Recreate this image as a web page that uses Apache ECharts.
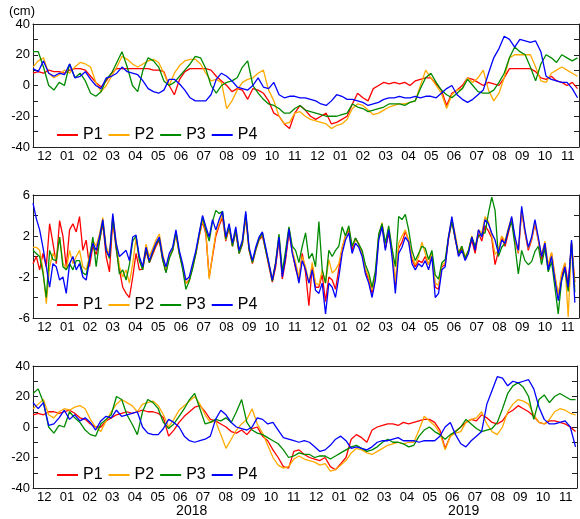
<!DOCTYPE html>
<html>
<head>
<meta charset="utf-8">
<script src="https://cdn.jsdelivr.net/npm/echarts@6/dist/echarts.min.js"></script>
<style>
  html, body { margin: 0; padding: 0; background: #fff; }
  #chart { width: 580px; height: 519px; }
</style>
</head>
<body>
<div id="chart"></div>
<script type="text/javascript">
var months = ['12','01','02','03','04','05','06','07','08','09','10','11',
              '12','01','02','03','04','05','06','07','08','09','10','11'];
var years = ['2018', '2019'];
var yearMid = [7, 19];            // month index of Jul 1 for each year
var levelLabels = [-40, -20, 0, 20, 40];
var shortLabels = [-6, -2, 2, 6];
var names = ['P1', 'P2', 'P3', 'P4'];
var colors = ['#ff0000', '#ffaa00', '#008a00', '#0000ff'];

// top panel, weekly from 2017-12-01
var a1 = [8,9,8,10,9, 9,8,10,11, 11,10,6,2, -1,3,8,11,11, 11,11,11,11, 11,10,10,9,
  0,-6,4,9,11, 11,11,11,10, 6,3,0,-4,-2, -3,-9,-2,-3, -5,-10,-18,-20, -25,-28,-18,-13,-16,
  -20,-22,-20,-18, -25,-24,-22,-20, -12,-5,-8,-10, -2,0,2,1,2, 1,2,0,3, 4,5,5,1,-3,
  -13,-5,-3,0, 5,4,2,0, 2,1,0,5,11, 11,11,11,11, 9,5,4,6, 3,2,0,2,-2];
var a2 = [12,16,18,8,5, 7,10,8,12, 15,14,12,2, -4,0,6,12,19, 17,14,12,14, 16,17,15,8,
  0,8,13,16,17, 17,14,8,3, 4,2,-15,-10,-3, 2,4,5,8, 10,-3,-10,-20, -25,-24,-18,-17,-20,
  -22,-23,-24,-25, -28,-26,-25,-22, -15,-12,-13,-16, -19,-18,-16,-14,-13, -12,-12,-11,-10, 0,10,5,0,-5,
  -15,-6,-3,-2, 5,2,5,10, -3,-10,-5,5,18, 20,20,20,20, 12,3,2,8, 10,12,10,8,6];
var a3 = [22,22,12,0,-3, 2,0,14,5, 8,3,-5,-7, -4,4,8,15,22, 12,0,-4,10, 18,16,12,3,
  0,2,6,10,14, 19,18,11,0, -5,0,2,3,5, 12,16,0,-5, -9,-12,-13,-15, -18,-18,-15,-13,-16,
  -17,-18,-19,-20, -20,-20,-19,-18, -12,-14,-15,-17, -16,-15,-14,-12,-12, -12,-13,-11,-10, -2,5,8,2,-3,
  -6,-8,-5,-2, 4,0,-4,-5, -5,-3,2,8,18, 25,22,20,12, 3,14,20,18, 15,20,18,16,18];
var a4 = [11,9,16,8,6, 8,7,14,5, 6,9,4,0, -2,5,6,8,12, 9,8,7,3, -2,-4,-5,-3,
  4,4,1,-3,-8, -10,-10,-10,-6, 4,8,6,3,-1, -2,-3,0,5, -1,-2,2,-6, -8,-7,-7,-8,-8,
  -9,-10,-12,-13, -10,-6,-7,-9, -9,-10,-11,-13, -12,-11,-9,-8,-8, -7,-8,-8,-7, -8,-7,-7,-8,-5,
  -2,0,-6,-9, -11,-9,-6,-3, 8,18,24,32,30, 25,30,29,28, 29,22,6,4, 3,2,2,-2,-8];

// middle panel, every 40/9 days from 2017-12-01
var b1 = [-0.7,0,-1.3,0.3,-1.0,3.2,1.3,-0.7,3.5,2.0,
  -1.0,2.6,3.2,2.4,3.9,0.6,1.6,-1.0,1.0,0.2,
  1.5,3.2,0,-1.5,3.5,0.8,-1.3,-3.0,-3.6,-4.0,
  -2.0,0.3,-1.3,-1.2,0.5,-0.6,0.2,1.0,1.6,-0.3,
  -1.5,0,0.6,2.2,0.3,-1.0,-2.6,-2.3,-1.0,0.3,
  2.0,3.4,2.2,-2.0,0,2.0,3.0,3.8,1.5,2.8,
  1.0,2.4,0.3,1.2,3.8,0.6,-0.7,0.6,1.6,2.0,
  0.6,-1.0,-2.5,-1.0,1.6,-2.2,-0.3,2.3,0.5,-1.2,
  -2.2,0.3,-1.6,-4.8,-1.0,-3.0,-3.0,-1.8,-4.4,-2.0,
  -2.3,-3.2,-1.2,0.8,2.0,2.6,0.6,1.8,1.2,0.3,
  -1.4,-2.3,-3.6,-2.0,1.9,3.0,0.8,2.2,0.5,-2.8,
  0.8,1.4,2.4,1.6,-0.3,-1.0,-0.4,-0.6,0,-0.8,
  0.3,-3.0,-3.2,-1.0,-0.8,1.7,3.5,1.7,0.2,0.8,
  -0.2,0.5,1.6,0.3,2.3,1.5,3.0,2.5,1.8,-0.8,
  0.5,1.9,1.0,2.3,3.6,1.6,0.3,4.5,2.3,0.6,
  1.6,3.2,1.6,-0.3,1.0,-1.0,0.3,-2.0,-3.8,-2.0,
  -0.7,-2.7,1.3,-2.5];
var b2 = [0.9,0.9,0.6,-1.3,-4.6,-1.0,0.3,-0.3,1.9,-0.6,
  -1.3,0.6,-0.7,0,0.6,-1.0,-1.3,0,1.6,1.0,
  2.2,3.8,1.0,0.2,4.0,1.5,-1.0,-2.0,-1.3,-2.6,
  -0.7,1.8,-0.4,-1.0,1.2,0,0.8,1.6,2.2,0.3,
  -1.3,0,0.6,2.2,0.3,-1.0,-2.6,-2.4,-1.0,0.3,
  2.0,3.5,2.5,-2.2,0.2,2.3,3.2,4.2,1.6,3.0,
  1.1,2.6,0.4,1.4,4.0,0.7,-0.6,0.7,1.7,2.2,
  0.7,-0.8,-2.2,-0.5,2.0,-1.6,0.2,2.8,0.6,-0.6,
  -2.0,0,-1.0,-2.6,-0.6,-2.6,-2.8,-1.3,-2.6,-0.3,
  -1.6,-1.3,-0.7,0.9,2.0,2.8,1.0,1.6,1.3,0.3,
  -1.2,-2.0,-3.3,-1.8,2.0,3.3,1.0,2.8,0.5,-2.5,
  1.3,2.0,2.6,1.6,0,-0.8,0,1.4,0.3,-0.8,
  0.3,-2.6,-2.8,-0.8,-0.6,2.0,3.6,2.2,0.4,1.0,
  0,0.6,2.0,0.8,2.6,2.3,3.9,3.4,2.0,0.2,
  0.6,2.0,1.5,2.8,3.8,1.7,0.4,4.6,2.4,0.8,
  1.7,3.4,1.6,0.2,1.5,-0.8,0.4,-1.8,-3.8,-1.6,
  -0.6,-5.9,1.2,-3.0];
var b3 = [0.6,0.3,0,-1.6,-4.0,0.6,-0.3,-0.4,1.9,-1.0,
  -1.3,-0.7,-1.3,-0.4,-0.4,-1.6,-1.8,-0.2,1.9,-1.0,
  1.5,3.4,0.6,-0.2,3.8,1.0,-1.7,-1.3,-2.3,-0.8,
  1.5,2.0,-0.4,-1.3,0.8,-0.6,0.4,1.2,1.7,-0.3,
  -1.6,-0.2,0.6,2.4,0.3,-1.2,-3.2,-2.4,-1.2,0.3,
  2.2,3.8,2.6,1.5,3.4,4.5,4.2,4.4,1.7,3.0,
  1.0,2.6,0.3,1.3,4.2,0.7,-0.6,0.7,1.7,2.3,
  0.6,-0.8,-2.4,-0.6,2.2,-1.5,0.6,2.9,1.0,0.6,
  -0.6,1.0,2.3,-0.2,0.3,-1.0,3.4,-1.3,-2.6,0.6,
  0,0.6,1.0,2.9,2.0,3.0,1.0,1.8,1.2,0.6,
  -0.8,-1.6,-3.0,-1.4,2.2,3.2,1.3,3.0,0.8,-1.0,
  3.9,3.6,4.1,2.6,0.6,-0.4,0.3,1.0,0.8,-0.3,
  0.6,-1.8,-2.2,-0.6,-0.3,1.9,3.4,1.8,0.3,1.0,
  -0.2,0.6,1.9,1.0,2.0,2.2,2.3,4.2,5.8,4.5,
  0,0.9,1.3,2.6,3.4,1.0,-1.7,0.6,-0.4,-0.8,
  -0.5,0.5,1.0,-0.8,0.8,-1.5,-0.5,-3.0,-5.6,-2.4,
  -1.2,-3.4,1.4,-3.5];
var b4 = [5.2,3.7,2.6,0.9,-1.0,-3.0,-0.7,-1.0,-2.3,-2.0,
  -3.6,-0.7,0,-1.3,-0.7,-2.0,-2.3,-0.4,1.3,0.6,
  1.9,3.6,0.6,0,4.2,1.3,0,0.3,0.6,-0.4,
  1.9,2.1,0,-1.0,0.9,-0.4,0.5,1.3,1.9,0,
  -1.0,0.3,0.9,2.6,0.6,-0.7,-2.3,-2.0,-0.7,0.6,
  2.3,4.0,2.9,1.9,3.6,2.6,3.6,4.4,1.9,3.2,
  1.3,2.9,0.6,1.6,4.4,0.9,-0.4,0.9,1.9,2.4,
  0.9,-0.7,-2.3,-0.7,1.9,-2.0,0,2.7,0.3,-1.0,
  -2.6,-0.4,-1.3,-2.6,-1.3,-3.3,-3.6,-2.6,-5.6,-2.6,
  -3.0,-4.0,-2.0,0.3,1.6,2.3,0.3,1.3,0.9,0,
  -1.7,-2.6,-4.0,-2.3,1.6,2.9,0.6,2.6,0,-3.6,
  0.3,0.9,1.9,1.4,-0.7,-1.3,-0.7,-1.0,-0.4,-1.3,
  0,-4.0,-3.6,-1.3,-1.0,1.9,3.9,1.9,0,0.6,
  -0.4,0.3,1.9,0.6,2.6,1.9,3.6,3.2,2.3,1.6,
  0.3,1.6,1.3,2.6,3.9,1.9,0.6,4.9,2.6,0.9,
  1.9,3.6,1.9,0,1.3,-1.3,0,-2.3,-4.3,-2.3,
  -1.0,-3.0,1.6,-4.5];

// bottom panel, weekly from 2017-12-01
var c1 = [8,9,8,10,10, 9,10,11,9, 6,5,2,0, 0,4,6,8,9, 10,9,10,11, 10,10,9,6,
  -6,-2,3,7,10, 13,14,10,5, 4,2,0,-3,-4, -2,-5,-1,0, -6,-9,-15,-20, -26,-27,-16,-15,-18,
  -20,-21,-22,-20, -26,-28,-24,-20, -8,-5,-7,-10, -2,0,1,2,2, 1,3,2,3, 4,5,5,3,-2,
  -14,-6,-3,0, 3,5,4,8, 6,3,2,4,9, 11,14,12,10, 7,3,2,4, 4,3,2,0,-3];
var c2 = [12,15,18,8,6, 10,12,11,13, 14,12,5,0, -3,4,10,15,18, 16,14,10,15, 16,17,14,8,
  0,5,11,14,17, 20,15,8,3, 4,-5,-14,-8,-2, 2,5,12,2, -4,-12,-20,-25, -27,-26,-21,-19,-21,
  -22,-23,-25,-24, -29,-28,-25,-22, -17,-14,-15,-17, -18,-16,-14,-12,-11, -10,-11,-10,-10, -2,7,4,1,-4,
  -15,-6,-4,-3, 3,5,6,10, 2,-3,-5,0,10, 15,18,17,15, 8,3,2,5, 10,12,11,9,8];
var c3 = [22,25,16,0,-4, 1,0,10,6, 3,-2,-5,-6, 2,5,8,20,18, 8,2,-5,10, 18,16,12,3,
  -1,2,7,12,18, 22,12,2,3, 5,4,6,3,10, 18,3,-2,-4, -5,-7,-9,-11, -15,-20,-19,-17,-18,
  -18,-20,-19,-19, -21,-19,-17,-15, -13,-12,-14,-16, -15,-13,-10,-8,-10, -10,-11,-13,-12, -6,-2,0,-3,-5,
  -8,-5,-3,0, 5,2,-1,-3, -2,-1,3,12,22, 27,29,26,20, 5,18,21,16, 20,22,20,18,18];
var c4 = [16,12,16,1,2, 6,11,5,8, 4,6,3,-2, 4,7,6,11,7, 8,9,10,0, -4,-5,-5,-1,
  5,3,0,-6,-9, -10,-9,-8,-6, 5,11,8,3,0, -1,-2,0,6, 5,2,3,-2, -7,-8,-9,-10,-9,
  -10,-13,-16,-15, -12,-8,-6,-9, -14,-13,-14,-15, -13,-10,-9,-9,-8, -7,-9,-9,-9, -10,-9,-9,-9,-6,
  0,3,-5,-11, -13,-9,-6,-3, 15,24,33,32,27, 30,29,30,31, 25,13,5,2, 2,3,4,0,-13];

var DAY = 86400000;
var start = Date.UTC(2017, 11, 1);
var end = Date.UTC(2019, 11, 1);

function toSeries(arr, stepDays) {
  return arr.map(function (v, i) { return [start + i * stepDays * DAY, v]; });
}

var axisColor = '#222';
var grids = [
  {left: 33, right: 1, top: 24, height: 123},
  {left: 33, right: 1, top: 195, height: 123},
  {left: 33, right: 1, top: 366, height: 122}
];
var legendTops = [127, 297, 467];
var panels = [
  {data: [a1, a2, a3, a4], step: 7, min: -40, max: 40, interval: 10, labels: levelLabels},
  {data: [b1, b2, b3, b4], step: 40 / 9, min: -6, max: 6, interval: 2, labels: shortLabels},
  {data: [c1, c2, c3, c4], step: 7, min: -40, max: 40, interval: 10, labels: levelLabels}
];

var xAxes = [], yAxes = [], series = [], legends = [];
panels.forEach(function (p, g) {
  var xBase = xAxes.length, yBase = yAxes.length;
  xAxes.push({
    gridIndex: g, type: 'category', data: months, position: 'bottom', boundaryGap: true,
    axisLine: {onZero: false, lineStyle: {color: axisColor}},
    axisTick: {inside: true, length: 5, interval: 0, lineStyle: {color: axisColor}},
    axisLabel: {interval: 0, color: '#000', fontSize: 13, margin: 3},
    splitLine: {show: false}
  });
  xAxes.push({
    gridIndex: g, type: 'category', data: months, position: 'top', boundaryGap: true,
    axisLine: {onZero: false, lineStyle: {color: axisColor}},
    axisTick: {inside: true, length: 5, interval: 0, lineStyle: {color: axisColor}},
    axisLabel: {show: false},
    splitLine: {show: false}
  });
  xAxes.push({gridIndex: g, type: 'time', min: start, max: end, show: false});

  yAxes.push({
    gridIndex: g, type: 'value', min: p.min, max: p.max, interval: p.interval, position: 'left',
    name: g === 0 ? '(cm)' : '', nameLocation: 'end', nameGap: 4,
    nameTextStyle: {color: '#000', fontSize: 13, align: 'right', padding: [0, -2, 0, 0]},
    axisLine: {show: true, onZero: false, lineStyle: {color: axisColor}},
    axisTick: {show: true, inside: true, length: 5, lineStyle: {color: axisColor}},
    axisLabel: {color: '#000', fontSize: 13, margin: 3, formatter: function (v) {
      return p.labels.indexOf(v) >= 0 ? String(v) : '';
    }},
    splitLine: {show: false}
  });
  yAxes.push({
    gridIndex: g, type: 'value', min: p.min, max: p.max, interval: p.interval, position: 'right',
    axisLine: {show: true, onZero: false, lineStyle: {color: axisColor}},
    axisTick: {show: true, inside: true, length: 5, lineStyle: {color: axisColor}},
    axisLabel: {show: false},
    splitLine: {show: false}
  });

  p.data.forEach(function (arr, k) {
    series.push({
      name: names[k], type: 'line', xAxisIndex: xBase + 2, yAxisIndex: yBase,
      data: toSeries(arr, p.step), showSymbol: false, symbol: 'none',
      lineStyle: {width: 1.3, color: colors[k]}, itemStyle: {color: colors[k]},
      animation: false
    });
  });

  legends.push({
    data: names, left: 57, top: legendTops[g], orient: 'horizontal', padding: 0,
    icon: 'rect', itemWidth: 21, itemHeight: 2, itemGap: 6,
    textStyle: {color: '#000', fontSize: 16}
  });
});

// year labels under the bottom panel
xAxes.push({
  gridIndex: 2, type: 'value', min: 0, max: months.length, interval: 1, position: 'bottom',
  axisLine: {show: false, onZero: false}, axisTick: {show: false}, splitLine: {show: false},
  axisLabel: {color: '#000', fontSize: 14, margin: 16, formatter: function (v) {
    var k = yearMid.indexOf(v);
    return k >= 0 ? years[k] : '';
  }}
});

var chart = echarts.init(document.getElementById('chart'));
chart.setOption({
  animation: false,
  backgroundColor: '#fff',
  textStyle: {fontFamily: 'Liberation Sans, Arial, Helvetica, sans-serif'},
  grid: grids,
  legend: legends,
  xAxis: xAxes,
  yAxis: yAxes,
  series: series
});
</script>
</body>
</html>
